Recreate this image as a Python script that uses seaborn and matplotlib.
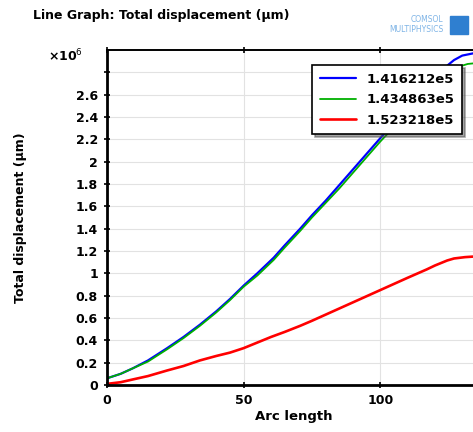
import numpy as np
import pandas as pd
import matplotlib
matplotlib.use("Agg")
import matplotlib.pyplot as plt
import seaborn as sns

# data (values in units of 1e6 um)
blue_x = [0, 5, 9.5, 15, 22, 28, 34, 40, 45, 50, 55, 61, 65, 70.7, 75, 80, 85, 90, 95,
          100, 105, 108, 112, 116, 120, 122, 125, 127, 130, 132, 134, 138]
blue_y = [0.06, 0.10, 0.15, 0.22, 0.33, 0.43, 0.54, 0.66, 0.77, 0.89, 1.00, 1.14, 1.25, 1.40, 1.52,
          1.65, 1.79, 1.93, 2.07, 2.21, 2.35, 2.43, 2.55, 2.65, 2.75, 2.80, 2.87, 2.91, 2.95, 2.96, 2.97, 2.97]
green_x = [0, 5, 9.5, 15, 22, 28, 34, 40, 45, 50, 55, 61, 65, 70.7, 75, 80, 85, 90, 95,
           100, 105, 108, 112, 116, 120, 122, 125, 127, 130, 132, 134, 138]
green_y = [0.06, 0.10, 0.15, 0.21, 0.32, 0.42, 0.53, 0.65, 0.76, 0.88, 0.98, 1.12, 1.23, 1.38, 1.50,
           1.63, 1.76, 1.90, 2.04, 2.18, 2.31, 2.39, 2.50, 2.60, 2.70, 2.74, 2.80, 2.83, 2.86, 2.875, 2.88, 2.88]
red_x = [0, 5, 9.5, 15, 22, 28, 34, 40, 45, 50, 55, 60, 65, 70.7, 75, 80, 85, 90, 95,
         100, 105, 110, 117, 120, 124.5, 127, 131, 134, 138]
red_y = [0.01, 0.025, 0.05, 0.08, 0.13, 0.17, 0.22, 0.26, 0.29, 0.33, 0.38, 0.43, 0.475, 0.53, 0.575,
         0.63, 0.685, 0.74, 0.795, 0.85, 0.905, 0.96, 1.035, 1.07, 1.115, 1.133, 1.145, 1.15, 1.15]
series_names = ["1.416212e5", "1.434863e5", "1.523218e5"]
y_ticks = [0, 0.2, 0.4, 0.6, 0.8, 1, 1.2, 1.4, 1.6, 1.8, 2, 2.2, 2.4, 2.6, 2.8]
x_ticks = [0, 50, 100]

sns.set_theme(style="white")
plt.rcParams['font.family'] = ['DejaVu Sans']
plt.rcParams['text.color'] = 'black'
plt.rcParams['axes.labelcolor'] = 'black'

fig = plt.figure(figsize=(4.73, 4.32), dpi=100)
ax = fig.add_axes([107/473, 1 - 385/432, 373/473, 335/432])

sns.lineplot(x=blue_x, y=blue_y, ax=ax, color="#0000ff", lw=1.6, label=series_names[0])
sns.lineplot(x=green_x, y=green_y, ax=ax, color="#00b000", lw=1.3, label=series_names[1])
sns.lineplot(x=red_x, y=red_y, ax=ax, color="#ff0000", lw=1.9, label=series_names[2])

ax.set_xlim(0, 136.5)
ax.set_ylim(0, 3.0)
ax.set_xticks(x_ticks)
ax.set_yticks(y_ticks)
ax.set_yticklabels([("%g" % t) if t < 2.7 else "" for t in y_ticks])
ax.grid(True, color="#e2e2e2", lw=0.8)
ax.tick_params(axis="both", direction="inout", length=5, width=1.2, colors="black",
               labelcolor="black", labelsize=9, top=True, bottom=True, left=True, pad=4)
for lab in ax.get_xticklabels() + ax.get_yticklabels():
    lab.set_fontweight("bold")
for side in ["left", "bottom"]:
    ax.spines[side].set_linewidth(2.0)
    ax.spines[side].set_color("black")
ax.spines["top"].set_linewidth(1.4)
ax.spines["top"].set_color("black")
ax.spines["right"].set_visible(False)

ax.set_xlabel("Arc length", fontsize=9.5, fontweight="bold", labelpad=2)
ax.set_ylabel("Total displacement (\u00b5m)", fontsize=9, fontweight="bold")
ax.yaxis.set_label_coords(-80/373, 0.5)

leg = ax.legend(loc="upper right", bbox_to_anchor=(0.952, 0.955), borderaxespad=0,
                frameon=True, fancybox=False, fontsize=9.5, handlelength=2.7,
                borderpad=0.6, labelspacing=0.55, edgecolor="black", shadow=True)
leg.get_frame().set_linewidth(1.2)
for t in leg.get_texts():
    t.set_fontweight("bold")

fig.text(48/473, 1 - 56/432, "\u00d710$^{6}$", fontsize=9, fontweight="bold", va="center")
fig.text(33/473, 1 - 16/432, "Line Graph: Total displacement (\u00b5m)", fontsize=9,
         fontweight="bold", va="center")
fig.text(443/473, 1 - 20/432, "COMSOL", fontsize=5.5, color="#7fb4e6", ha="right", va="center")
fig.text(443/473, 1 - 30/432, "MULTIPHYSICS", fontsize=5.5, color="#7fb4e6", ha="right", va="center")
fig.patches.append(plt.Rectangle((450/473, 1 - 34/432), 18/473, 18/432, transform=fig.transFigure,
                                 color="#2f7fd0", figure=fig))

fig.savefig("out.png", dpi=100)
